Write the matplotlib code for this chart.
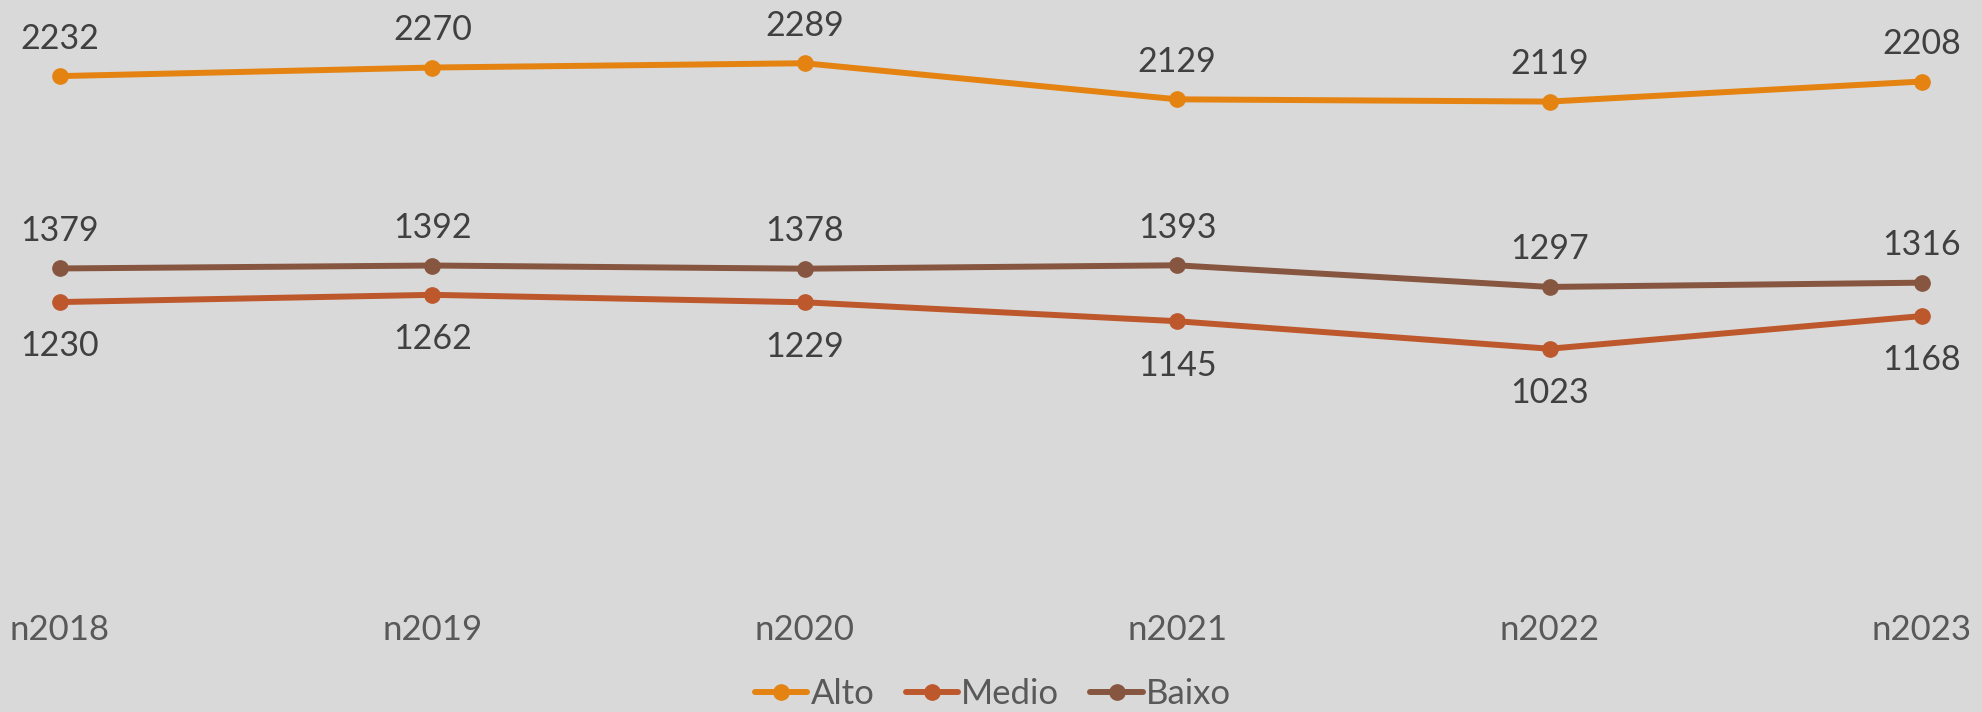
import matplotlib.pyplot as plt

# Data
years = ["n2018", "n2019", "n2020", "n2021", "n2022", "n2023"]
alto = [2232, 2270, 2289, 2129, 2119, 2208]
medio = [1230, 1262, 1229, 1145, 1023, 1168]
baixo = [1379, 1392, 1378, 1393, 1297, 1316]

plt.rcParams['font.family'] = ['Lato', 'DejaVu Sans']

bg = '#d9d9d9'
fig = plt.figure(figsize=(19.83, 7.12), dpi=100, facecolor=bg)
ax = fig.add_axes([60 / 1983, 0.1862, (1922 - 60) / 1983, 0.978 - 0.1862])
ax.set_facecolor(bg)

x = list(range(len(years)))
series = [
    ("Alto", alto, '#e48312', 1),
    ("Medio", medio, '#bd582c', -1),
    ("Baixo", baixo, '#865640', 1),
]
for name, vals, color, side in series:
    ax.plot(x, vals, color=color, lw=4.3, marker='o', ms=11, label=name,
            solid_capstyle='round', clip_on=False)
    # labels sit a bit lower than symmetric in the original
    off = 27 if side > 0 else -32
    for xi, v in zip(x, vals):
        ax.annotate(str(v), (xi, v), xytext=(0, off), textcoords='offset points',
                    ha='center', va='center', fontsize=24.5, color='#404040',
                    annotation_clip=False)

ax.set_xlim(0, 5)
ax.set_ylim(0, 2500)
ax.set_xticks(x)
ax.set_xticklabels(years)
ax.set_yticks([])
ax.tick_params(axis='x', length=0, pad=25, labelsize=25, labelcolor='#595959')
for s in ax.spines.values():
    s.set_visible(False)

leg = fig.legend(loc='center', bbox_to_anchor=(993 / 1983, 1 - 694 / 712), ncol=3,
                 frameon=False, fontsize=25, handlelength=1.5, handletextpad=0.1,
                 columnspacing=0.9)
for t in leg.get_texts():
    t.set_color('#595959')

fig.savefig('out.png', dpi=100, facecolor=bg)
